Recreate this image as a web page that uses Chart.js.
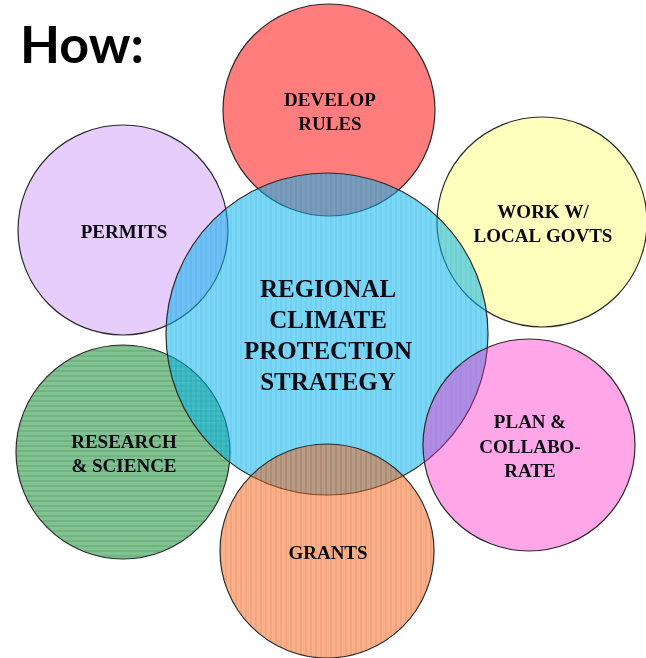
<!DOCTYPE html>
<html><head><meta charset="utf-8">
<style>html,body{margin:0;padding:0;background:#fff;overflow:hidden}</style>
<script src="https://cdn.jsdelivr.net/npm/chart.js@4/dist/chart.umd.min.js"></script>
</head><body>
<canvas id="c" width="646" height="658" style="display:block;width:646px;height:658px"></canvas>
<script>
// ---- data (drawing order: back to front) ----
const titleText = 'How:';
const categories = ['DEVELOP RULES','WORK W/ LOCAL GOVTS','RESEARCH & SCIENCE','PERMITS','REGIONAL CLIMATE PROTECTION STRATEGY','PLAN & COLLABORATE','GRANTS'];
const labelLines = [
  ['DEVELOP','RULES'],
  ['WORK W/','LOCAL GOVTS'],
  ['RESEARCH','& SCIENCE'],
  ['PERMITS'],
  ['REGIONAL','CLIMATE','PROTECTION','STRATEGY'],
  ['PLAN &','COLLABO-','RATE'],
  ['GRANTS']
];
const xValues = [329, 542, 123, 123, 327, 529, 327];
const yValues = [110, 222, 452, 230, 334, 445, 551];
const radii   = [106, 105, 107, 105, 161, 106, 107];

// ---- styles ----
function stripes(base, line, vertical, period, lw){
  const c = document.createElement('canvas');
  c.width = period; c.height = period;
  const g = c.getContext('2d');
  g.fillStyle = base; g.fillRect(0,0,period,period);
  g.clearRect(0,0,vertical?lw:period, vertical?period:lw);
  g.fillStyle = line;
  if (vertical) g.fillRect(0,0,lw,period); else g.fillRect(0,0,period,lw);
  return g.createPattern(c,'repeat');
}
const fills = [
  '#FF7D7D',
  '#FFFFBD',
  stripes('#82C191','#70B580',false,5,2),
  '#E7CDFB',
  stripes('rgba(10,184,239,0.55)','rgba(0,166,231,0.55)',true,5,2),
  'rgba(255,32,200,0.4)',
  stripes('rgba(243,99,21,0.5)','rgba(235,70,0,0.5)',true,5,2)
];
const bigIndex = 4;

const labelPlugin = {
  id: 'labels',
  beforeDraw(chart){
    const ctx = chart.ctx;
    ctx.save(); ctx.fillStyle = '#fff'; ctx.fillRect(0,0,chart.width,chart.height); ctx.restore();
  },
  afterDatasetsDraw(chart){
    const ctx = chart.ctx;
    ctx.save();
    ctx.fillStyle = '#000';
    ctx.textAlign = 'left';
    ctx.textBaseline = 'alphabetic';
    ctx.font = 'bold 52px Lato';
    ctx.fillText(titleText, 20, 63);
    ctx.fillStyle = '#0a0a14';
    ctx.textAlign = 'center';
    ctx.textBaseline = 'middle';
    const pts = chart.getDatasetMeta(0).data;
    pts.forEach((p, i) => {
      const lines = labelLines[i];
      const big = i === bigIndex;
      const lh = big ? 31 : 24.5;
      ctx.font = big ? 'bold 25px "Liberation Serif"' : 'bold 19px "Liberation Serif"';
      const y0 = p.y + 3 - (lines.length - 1) * lh / 2;
      lines.forEach((t, k) => ctx.fillText(t, p.x + 1, y0 + k * lh));
    });
    ctx.restore();
  }
};

new Chart(document.getElementById('c'), {
  type: 'bubble',
  data: {
    labels: categories,
    datasets: [{
      data: xValues.map((x, i) => ({x, y: yValues[i], r: radii[i]})),
      backgroundColor: fills,
      borderColor: '#2a2a2a',
      borderWidth: 1.2,
      hoverBorderWidth: 1.2,
      hoverRadius: 0,
      clip: false
    }]
  },
  options: {
    responsive: false,
    animation: false,
    events: [],
    layout: { padding: 0, autoPadding: false },
    plugins: { legend: { display: false }, tooltip: { enabled: false }, title: { display: false } },
    scales: {
      x: { type: 'linear', min: 0, max: 646, display: false },
      y: { type: 'linear', min: 0, max: 658, reverse: true, display: false }
    }
  },
  plugins: [labelPlugin]
});
</script>
</body></html>
